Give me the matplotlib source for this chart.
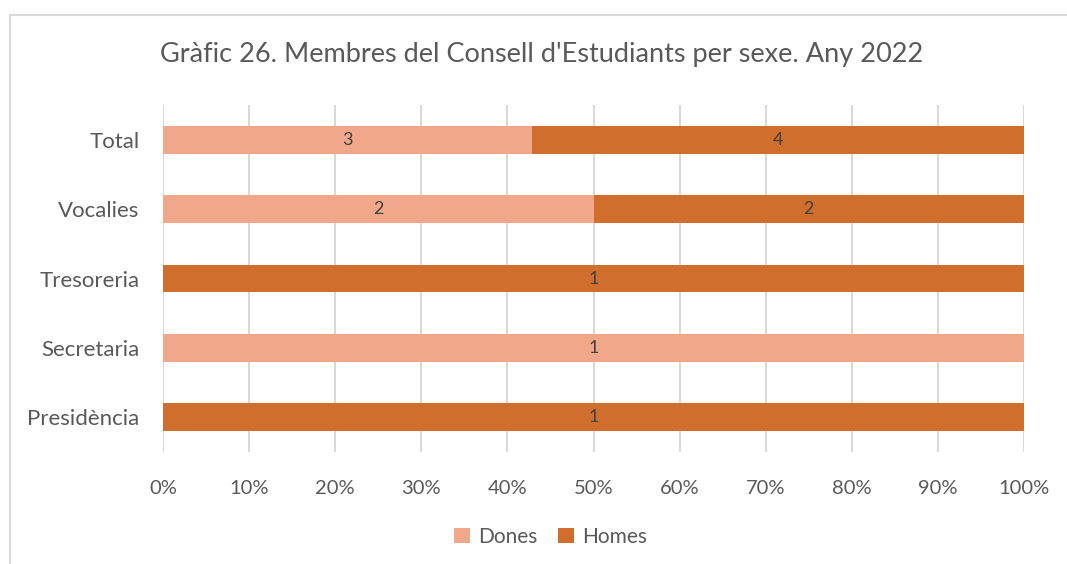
import matplotlib.pyplot as plt
import numpy as np
from matplotlib.patches import Rectangle

# Data (bottom to top as drawn)
categories = ["Presidència", "Secretaria", "Tresoreria", "Vocalies", "Total"]
dones = [0, 1, 0, 2, 3]
homes = [1, 0, 1, 2, 4]
title = "Gràfic 26. Membres del Consell d'Estudiants per sexe. Any 2022"

c_dones = "#F1A88A"
c_homes = "#D06E2E"
txt = "#595959"

plt.rcParams['font.family'] = ['Lato', 'DejaVu Sans']

fig = plt.figure(figsize=(10.67, 5.64), dpi=100)
ax = fig.add_axes([0.1528, 0.1986, 0.8069, 0.6152])

# chart border
fig.patches.append(Rectangle((10 / 1067, -0.05), 1.1, 1 - 15 / 564 + 0.05,
                             transform=fig.transFigure, fill=False,
                             edgecolor="#D9D9D9", linewidth=1.5))

d = np.array(dones, dtype=float)
h = np.array(homes, dtype=float)
tot = d + h
pd_ = d / tot
ph = h / tot
y = np.arange(len(categories))

ax.barh(y, pd_, height=0.4, color=c_dones, label="Dones", zorder=3)
ax.barh(y, ph, left=pd_, height=0.4, color=c_homes, label="Homes", zorder=3)

for i in range(len(categories)):
    if d[i] > 0:
        ax.text(pd_[i] / 2, y[i], f"{int(d[i])}", ha="center", va="center",
                fontsize=13, color="#404040", zorder=4)
    if h[i] > 0:
        ax.text(pd_[i] + ph[i] / 2, y[i], f"{int(h[i])}", ha="center", va="center",
                fontsize=13, color="#404040", zorder=4)

ax.set_xlim(0, 1)
ax.set_ylim(-0.5, len(categories) - 0.5)
ax.set_xticks(np.linspace(0, 1, 11))
ax.set_xticklabels([f"{int(v)}%" for v in np.arange(0, 101, 10)])
ax.set_yticks(y)
ax.set_yticklabels(categories)
ax.tick_params(axis="x", length=0, labelsize=14.5, colors=txt, pad=20)
ax.tick_params(axis="y", length=0, labelsize=16, colors=txt, pad=17)

ax.grid(axis="x", color="#D9D9D9", linewidth=1.5, zorder=0)
for s in ax.spines.values():
    s.set_visible(False)

fig.text(0.508, 1 - 55 / 564, title, ha="center", va="center", fontsize=19.5, color=txt)

fig.legend(loc="center", bbox_to_anchor=(0.516, 1 - 537 / 564), ncol=2, frameon=False,
           fontsize=15, labelcolor=txt, handlelength=0.75, handleheight=0.75,
           handletextpad=0.4, columnspacing=1.0)

plt.savefig("out.png", dpi=100)
